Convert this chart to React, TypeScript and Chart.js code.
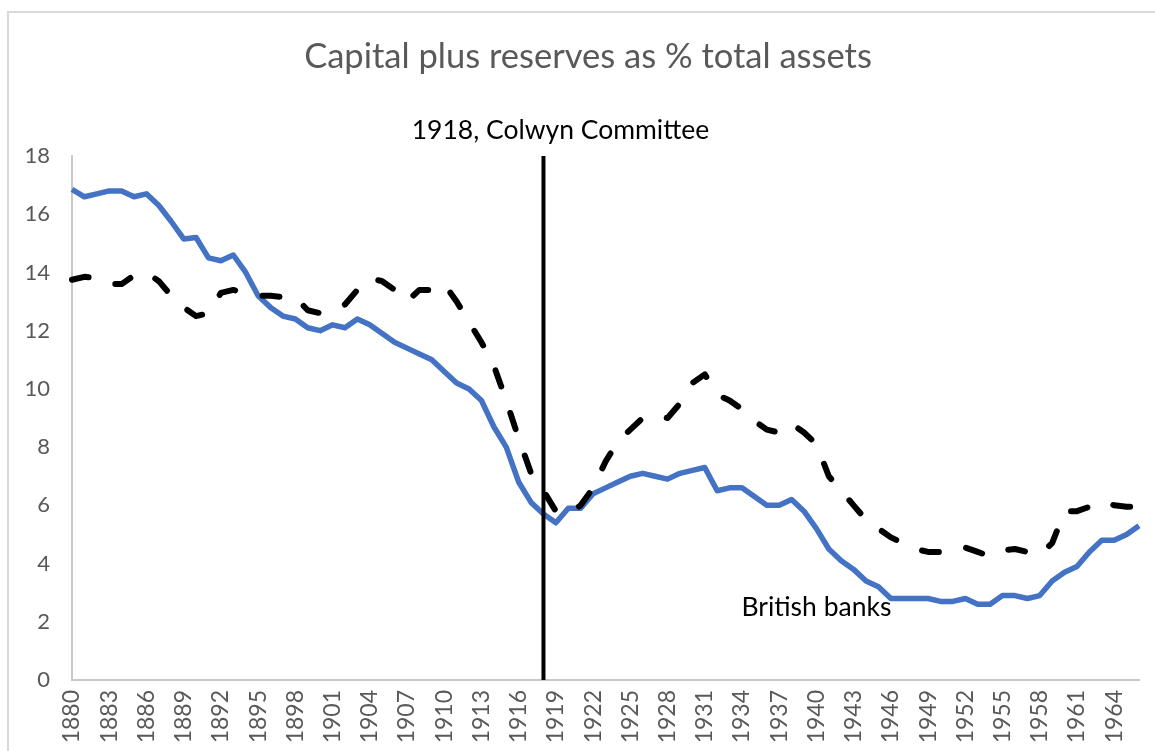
import React, { useEffect, useRef } from "react";
import { Chart, registerables } from "chart.js";

Chart.register(...registerables);

const years: string[] = [];
for (let y = 1880; y <= 1966; y++) years.push(String(y));

const britishBanks: number[] = [
  16.85, 16.6, 16.7, 16.8, 16.8, 16.6, 16.7, 16.3, 15.75, 15.15,
  15.2, 14.5, 14.4, 14.6, 14.0, 13.2, 12.8, 12.5, 12.4, 12.1,
  12.0, 12.2, 12.1, 12.4, 12.2, 11.9, 11.6, 11.4, 11.2, 11.0,
  10.6, 10.2, 10.0, 9.6, 8.7, 8.0, 6.8, 6.1, 5.7, 5.4,
  5.9, 5.9, 6.4, 6.6, 6.8, 7.0, 7.1, 7.0, 6.9, 7.1,
  7.2, 7.3, 6.5, 6.6, 6.6, 6.3, 6.0, 6.0, 6.2, 5.8,
  5.2, 4.5, 4.1, 3.8, 3.4, 3.2, 2.8, 2.8, 2.8, 2.8,
  2.7, 2.7, 2.8, 2.6, 2.6, 2.9, 2.9, 2.8, 2.9, 3.4,
  3.7, 3.9, 4.4, 4.8, 4.8, 5.0, 5.3,
];

const otherSeries: number[] = [
  13.75, 13.85, 13.8, 13.6, 13.6, 13.9, 14.0, 13.7, 13.2, 12.8,
  12.5, 12.6, 13.3, 13.4, 13.3, 13.2, 13.2, 13.15, 13.15, 12.7,
  12.6, 12.7, 12.9, 13.4, 13.8, 13.7, 13.4, 13.0, 13.4, 13.4,
  13.6, 13.0, 12.3, 11.6, 10.8, 9.6, 8.3, 7.1, 6.5, 5.8,
  5.7, 6.0, 6.6, 7.5, 8.2, 8.6, 9.0, 9.1, 9.0, 9.5,
  10.2, 10.5, 9.8, 9.6, 9.3, 8.9, 8.6, 8.5, 8.8, 8.5,
  8.1, 7.0, 6.5, 6.0, 5.5, 5.2, 4.9, 4.7, 4.5, 4.4,
  4.4, 4.4, 4.55, 4.4, 4.25, 4.45, 4.5, 4.4, 4.3, 4.7,
  5.8, 5.8, 5.95, 6.15, 6.0, 5.95, 5.95,
];

const yTicks: number[] = [0, 2, 4, 6, 8, 10, 12, 14, 16, 18];

const eventYear = "1918";
const eventLabel = "1918, Colwyn Committee";
const seriesLabel = "British banks";
const seriesLabelYear = "1940";
const seriesLabelValue = 2.5;
const titleText = "Capital plus reserves as % total assets";

const FONT = "Lato, 'Open Sans', sans-serif";

export default function App() {
  const ref = useRef<HTMLCanvasElement | null>(null);

  useEffect(() => {
    if (!ref.current) return;

    const frame = {
      id: "frame",
      beforeDraw(chart: any) {
        const ctx = chart.ctx;
        ctx.save();
        ctx.fillStyle = "#ffffff";
        ctx.fillRect(0, 0, chart.width, chart.height);
        ctx.strokeStyle = "#d9d9d9";
        ctx.lineWidth = 2;
        ctx.beginPath();
        ctx.moveTo(8, chart.height + 10);
        ctx.lineTo(8, 12);
        ctx.lineTo(chart.width + 10, 12);
        ctx.stroke();
        ctx.fillStyle = "#595959";
        ctx.font = "34.5px " + FONT;
        ctx.textAlign = "center";
        ctx.textBaseline = "middle";
        ctx.fillText(titleText, 588, 57);
        ctx.restore();
      },
    };

    const annotations = {
      id: "annotations",
      afterDatasetsDraw(chart: any) {
        const ctx = chart.ctx;
        const xs = chart.scales.x;
        const ys = chart.scales.y;
        const area = chart.chartArea;
        const ex = xs.getPixelForValue(years.indexOf(eventYear));
        ctx.save();
        ctx.strokeStyle = "#000000";
        ctx.lineWidth = 4;
        ctx.beginPath();
        ctx.moveTo(ex, area.top);
        ctx.lineTo(ex, area.bottom);
        ctx.stroke();
        ctx.fillStyle = "#000000";
        ctx.font = "26.5px " + FONT;
        ctx.textAlign = "center";
        ctx.textBaseline = "middle";
        ctx.fillText(eventLabel, ex + 17, area.top - 26);
        const bx = xs.getPixelForValue(years.indexOf(seriesLabelYear));
        const by = ys.getPixelForValue(seriesLabelValue);
        ctx.fillText(seriesLabel, bx, by);
        ctx.restore();
      },
    };

    const chart = new Chart(ref.current, {
      type: "line",
      data: {
        labels: years,
        datasets: [
          {
            label: "Other",
            data: otherSeries,
            borderColor: "#000000",
            borderWidth: 6,
            borderDash: [17, 28],
            borderCapStyle: "round",
            borderJoinStyle: "round",
            pointRadius: 0,
            tension: 0,
            fill: false,
          },
          {
            label: seriesLabel,
            data: britishBanks,
            borderColor: "#4472C4",
            borderWidth: 5.5,
            borderJoinStyle: "round",
            pointRadius: 0,
            tension: 0,
            fill: false,
          },
        ],
      },
      options: {
        animation: false,
        responsive: false,
        devicePixelRatio: 1,
        layout: { padding: { left: 0, right: 16, top: 156, bottom: 0 } },
        plugins: {
          legend: { display: false },
          tooltip: { enabled: false },
          title: { display: false },
        },
        scales: {
          x: {
            type: "category",
            offset: false,
            grid: { display: false, drawTicks: false },
            border: { display: true, color: "#c8c8c8", width: 2 },
            ticks: {
              autoSkip: false,
              maxRotation: 90,
              minRotation: 90,
              padding: 10,
              color: "#595959",
              font: { family: FONT, size: 23 },
              callback: (_v: any, i: number) => (i % 3 === 0 ? years[i] : ""),
            },
            afterFit: (s: any) => {
              s.height = 71;
              s.paddingLeft = 0;
              s.paddingRight = 0;
            },
          },
          y: {
            min: 0,
            max: 18,
            grid: { display: false, drawTicks: false },
            border: { display: true, color: "#c8c8c8", width: 2 },
            afterBuildTicks: (s: any) => {
              s.ticks = yTicks.map((v) => ({ value: v }));
            },
            ticks: {
              padding: 22,
              color: "#595959",
              font: { family: FONT, size: 22 },
            },
            afterFit: (s: any) => {
              s.width = 72;
              s.paddingTop = 0;
              s.paddingBottom = 0;
            },
          },
        },
      },
      plugins: [frame, annotations],
    });

    return () => chart.destroy();
  }, []);

  return (
    <div style={{ position: "fixed", left: 0, top: 0, width: 1155, height: 751, background: "#fff" }}>
      <canvas ref={ref} width={1155} height={751} style={{ display: "block", width: 1155, height: 751 }} />
    </div>
  );
}
